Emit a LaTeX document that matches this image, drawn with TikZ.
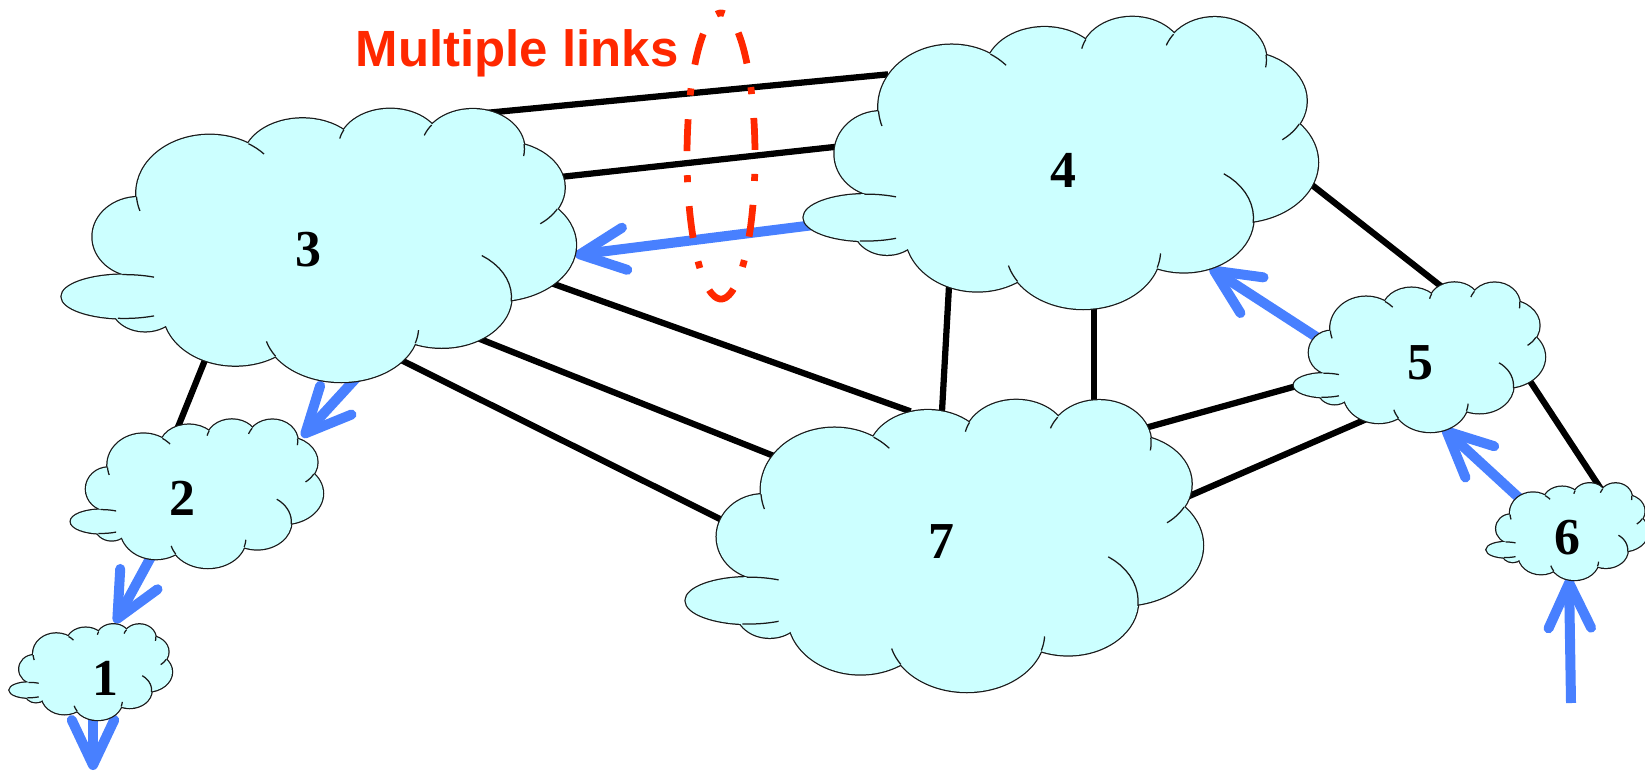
\documentclass[tikz,border=0pt]{standalone}
\usepackage{fontspec}
\setmainfont{Liberation Serif}
\newfontfamily\arialfont{Liberation Sans}
\usetikzlibrary{arrows.meta}
\definecolor{cloudfill}{RGB}{204,255,255}
\definecolor{cloudline}{RGB}{25,25,25}
\definecolor{bluec}{RGB}{72,128,255}
\definecolor{redc}{RGB}{255,40,0}
% lobes of the cloud, normalised box (0..1, y downwards): cx/cy/rx/ry
\newcommand\lobelist{0.29/0.31/0.142/0.212, 0.47/0.19/0.115/0.152, 0.64/0.14/0.1/0.137, 0.80/0.15/0.1/0.146, 0.855/0.29/0.123/0.168, 0.845/0.50/0.155/0.205, 0.74/0.69/0.135/0.185, 0.545/0.80/0.15/0.2, 0.34/0.74/0.14/0.2, 0.165/0.72/0.065/0.095, 0.125/0.688/0.122/0.08, 0.153/0.47/0.09/0.145}
% inner strokes: cx/cy/rx/ry/t1/t2
\newcommand\ticklist{0.29/0.31/0.142/0.212/162/176, 0.29/0.31/0.142/0.212/-58/-42, 0.64/0.14/0.1/0.137/-168/-154, 0.80/0.15/0.1/0.146/-160/-143, 0.80/0.15/0.1/0.146/-7/10, 0.855/0.29/0.123/0.168/28/52, 0.74/0.69/0.135/0.185/-55/5, 0.545/0.80/0.15/0.2/3/17, 0.545/0.80/0.15/0.2/148/165, 0.125/0.688/0.122/0.08/62/96, 0.125/0.688/0.122/0.08/268/298}
\newcommand\drawcloud[4]{%
\begin{scope}[shift={(#1,#2)},xscale=#3,yscale=#4]
\foreach \cx/\cy/\rx/\ry in \lobelist
  {\draw[cloudline,line width=0.05cm] (\cx,\cy) ellipse[x radius=\rx,y radius=\ry];}
\foreach \cx/\cy/\rx/\ry in \lobelist
  {\fill[cloudfill] (\cx,\cy) ellipse[x radius=\rx,y radius=\ry];}
\fill[cloudfill] (0.29,0.31) -- (0.47,0.19) -- (0.64,0.14) -- (0.80,0.15) -- (0.855,0.29) -- (0.845,0.50) -- (0.74,0.69) -- (0.545,0.80) -- (0.34,0.74) -- (0.165,0.72) -- (0.125,0.688) -- (0.153,0.47) -- cycle;
\foreach \cx/\cy/\rx/\ry/\ta/\tb in \ticklist
  {\draw[cloudline,line width=0.025cm] plot[domain=\ta:\tb,samples=10,variable=\t] ({\cx+\rx*cos(\t)},{\cy+\ry*sin(\t)});}
\end{scope}}
\begin{document}
\begin{tikzpicture}[x=0.02cm,y=-0.02cm,
  blk/.style={line width=0.125cm,black,shorten <=-0.14cm,shorten >=-0.14cm},
  blu/.style={line width=0.2cm,bluec,shorten <=-0.14cm,-{Straight Barb[length=0.9cm,width=0.85cm,round]}},
  num/.style={font=\fontsize{29.5pt}{30pt}\selectfont\bfseries,inner sep=0pt},
  lbl/.style={font=\arialfont\bfseries\fontsize{29pt}{30pt}\selectfont,text=redc,inner sep=0pt,anchor=base},
  grp/.style={redc,line width=0.135cm,dash pattern=on 0.14cm off 0.48cm on 0.64cm off 0.48cm,dash phase=0.07cm}]
\useasboundingbox (0,0) rectangle (1645,772);

% connector end points
\coordinate (l1a) at (485,113);  \coordinate (l1b) at (881,75);
\coordinate (l2a) at (560,177);  \coordinate (l2b) at (834,147);
\coordinate (l3a) at (551,283);  \coordinate (l3b) at (904,409);
\coordinate (l4a) at (480,339);  \coordinate (l4b) at (774,456);
\coordinate (l5a) at (399,359);  \coordinate (l5b) at (724,521);
\coordinate (l6a) at (949,286);  \coordinate (l6b) at (942,411);
\coordinate (l7a) at (1094,307); \coordinate (l7b) at (1094,400);
\coordinate (l8a) at (1312,185); \coordinate (l8b) at (1442,287);
\coordinate (l9a) at (1145,428); \coordinate (l9b) at (1293,387);
\coordinate (l10a) at (1187,497); \coordinate (l10b) at (1362,421);
\coordinate (l11a) at (1528,378); \coordinate (l11b) at (1597,483);
\coordinate (l12a) at (205,360);  \coordinate (l12b) at (178,427);
\coordinate (a1s) at (806,226);  \coordinate (a1t) at (575,255);
\coordinate (a2s) at (358,376);  \coordinate (a2t) at (302,437);
\coordinate (a3s) at (152,555);  \coordinate (a3t) at (115,623);
\coordinate (a4s) at (93,721);   \coordinate (a4t) at (93,770);
\coordinate (a5s) at (1318,338); \coordinate (a5t) at (1210,268);
\coordinate (a6s) at (1518,497); \coordinate (a6t) at (1443,428);
\coordinate (a7s) at (1571,703); \coordinate (a7t) at (1569,578);

% black links
\foreach \i in {1,...,12} {\draw[blk] (l\i a) -- (l\i b);}
% blue routes
\foreach \i in {1,...,6} {\draw[blu] (a\i s) -- (a\i t);}
\draw[blu,shorten <=0pt] (a7s) -- (a7t);

% clouds
\drawcloud{60}{108}{516}{274}
\drawcloud{802}{16}{516}{293}
\drawcloud{684}{399}{519}{293}
\drawcloud{70}{419}{253}{149}
\drawcloud{9}{624}{163}{96}
\drawcloud{1293}{282}{252}{150}
\drawcloud{1486}{483}{162}{97}

% labels
\node[num] (n3) at (308,250) {3};
\node[num] (n4) at (1063,170) {4};
\node[num] (n7) at (941,542) {7};
\node[num] (n2) at (182,498) {2};
\node[num] (n1) at (105,678) {1};
\node[num] (n5) at (1420,363) {5};
\node[num] (n6) at (1567,538) {6};

% multiple links marker
\draw[grp] plot[domain=-90:270,samples=181,variable=\t] ({721+34*cos(\t)},{156+143*sin(\t)}) -- cycle;
\node[lbl] (ml) at (517,66) {Multiple links};
\end{tikzpicture}
\end{document}
